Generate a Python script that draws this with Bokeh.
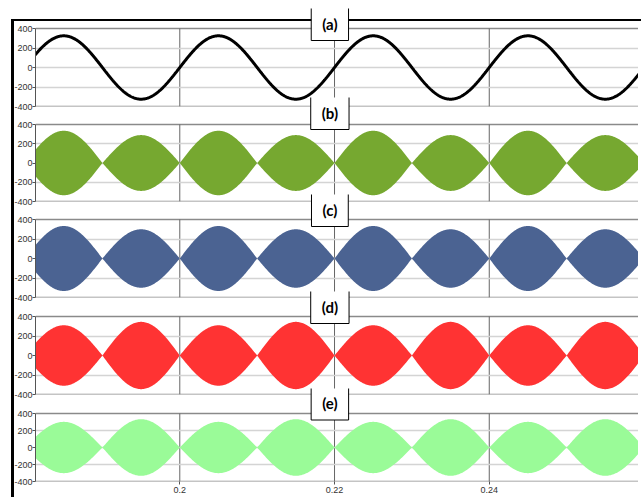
import numpy as np
from bokeh.plotting import figure
from bokeh.layouts import column
from bokeh.models import Range1d, FixedTicker, Label
from bokeh.embed import file_html
from bokeh.resources import INLINE

# ---------------- data ----------------
panel_names = ["(a)", "(b)", "(c)", "(d)", "(e)"]
grid_freq_hz = 50
sine_amplitude = 325            # panel (a) peak value
sine_zero_time = 0.2            # upward zero crossing of panel (a)
node_times = [0.18, 0.19, 0.20, 0.21, 0.22, 0.23, 0.24, 0.25, 0.26]   # envelope nodes
lobe_amp_b = [335, 290, 335, 290, 335, 290, 335, 290]
lobe_amp_c = [333, 300, 333, 300, 333, 300, 333, 300]
lobe_amp_d = [310, 345, 310, 345, 310, 345, 310, 345]
lobe_amp_e = [302, 333, 302, 333, 302, 333, 302, 333]
fill_colors = ["#76A830", "#4B6392", "#FF3333", "#9AFB98"]
x_ticks = [0.2, 0.22, 0.24]
x_tick_labels = ["0.2", "0.22", "0.24"]
y_ticks = [-400, -200, 0, 200, 400]
y_tick_labels = ["-400", "-200", "0", "200", "400"]
y_min, y_max = -400, 400

# ---------------- layout (window pixels) ----------------
X_START, X_END = 0.18135, 0.25929
FIG_W = 630
BORDER_L = 24
SHIFT_L = -3
COL_TOP = 21          # top of column content (after its black border)
# canvas top, panel top, panel bottom, canvas bottom, label-box centre
geo = [
    (8, 28, 106, 112, 23),
    (97, 124, 201, 207, 112),
    (194, 219, 297, 303, 209),
    (291, 316, 394, 400, 306),
    (388, 413, 481, 497, 402.5),
]
LABEL_X = 0.2194


def envelope(amps):
    ts, es = [], []
    for t0, t1, a in zip(node_times[:-1], node_times[1:], amps):
        tt = np.linspace(t0, t1, 80)
        ts.append(tt)
        es.append(a * np.sin(np.pi * (tt - t0) / (t1 - t0)))
    return np.concatenate(ts), np.concatenate(es)


def make_fig(i, prev_bottom, last=False):
    c_top, p_top, p_bot, c_bot, lab_c = geo[i]
    per_px = (y_max - y_min) / (p_bot - p_top)
    y_top = y_max + (p_top - c_top) * per_px
    p = figure(width=FIG_W, height=c_bot - c_top, output_backend="svg",
               toolbar_location=None,
               x_range=Range1d(X_START, X_END), y_range=Range1d(y_min, y_top),
               min_border_left=BORDER_L, min_border_right=0,
               min_border_top=0, min_border_bottom=c_bot - p_bot,
               margin=(c_top - prev_bottom, 0, 0, SHIFT_L))
    p.border_fill_color = None
    p.background_fill_color = None
    p.outline_line_color = None

    yax = p.yaxis[0]
    yax.bounds = (y_min, y_max)
    yax.ticker = FixedTicker(ticks=y_ticks)
    yax.major_label_overrides = dict(zip(y_ticks, y_tick_labels))
    yax.minor_tick_line_color = None
    yax.major_tick_out = 3
    yax.major_tick_in = 0
    yax.major_label_standoff = 0
    yax.axis_line_color = "#555555"
    yax.major_tick_line_color = "#555555"
    yax.major_label_text_font = "Liberation Sans"
    yax.major_label_text_font_size = "9px"
    yax.major_label_text_color = "#333333"

    p.ygrid.ticker = FixedTicker(ticks=y_ticks[1:-1])
    p.ygrid.grid_line_color = "#d4d4d4"
    p.ygrid.grid_line_width = 1.3
    p.xgrid.visible = False

    # panel borders and vertical grid lines, limited to the panel
    p.hspan(y=[y_min, y_max], line_color="#8a8a8a", line_width=1.5, level="underlay")
    p.segment(x0=x_ticks, y0=[y_min] * len(x_ticks), x1=x_ticks, y1=[y_max] * len(x_ticks),
              line_color="#666666", line_width=1, level="underlay")

    xax = p.xaxis[0]
    if last:
        xax.ticker = FixedTicker(ticks=x_ticks)
        xax.major_label_overrides = dict(zip(x_ticks, x_tick_labels))
        xax.minor_tick_line_color = None
        xax.major_tick_out = 3
        xax.major_tick_in = 0
        xax.major_label_standoff = 2
        xax.axis_line_color = None
        xax.major_tick_line_color = "#555555"
        xax.major_label_text_font = "Liberation Sans"
        xax.major_label_text_font_size = "9px"
        xax.major_label_text_color = "#333333"
    else:
        xax.visible = False

    p.add_layout(Label(x=LABEL_X, y=y_max + (p_top - lab_c) * per_px, text=panel_names[i],
                       text_align="center", text_baseline="middle",
                       text_font="Lato", text_font_style="bold",
                       text_font_size="15px", text_color="black",
                       background_fill_color="white",
                       border_line_color="black", border_line_width=1,
                       padding=(11, 8), level="overlay"))
    return p, c_bot


figs = []
pa, bottom = make_fig(0, COL_TOP)
t_line = np.linspace(0.18, 0.26, 1200)
pa.line(t_line, sine_amplitude * np.sin(2 * np.pi * grid_freq_hz * (t_line - sine_zero_time)),
        line_color="black", line_width=3)
figs.append(pa)

for k, amps in enumerate([lobe_amp_b, lobe_amp_c, lobe_amp_d, lobe_amp_e]):
    pk, bottom = make_fig(k + 1, bottom, last=(k == 3))
    t_env, env = envelope(amps)
    pk.varea(x=t_env, y1=-env, y2=env, fill_color=fill_colors[k])
    figs.append(pk)

layout = column(*figs, spacing=0,
                styles={"border-top": "2px solid black",
                        "border-left": "3px solid black",
                        "margin-top": "19px",
                        "margin-left": "11px"})

open("out.html", "w").write(file_html(layout, INLINE))
